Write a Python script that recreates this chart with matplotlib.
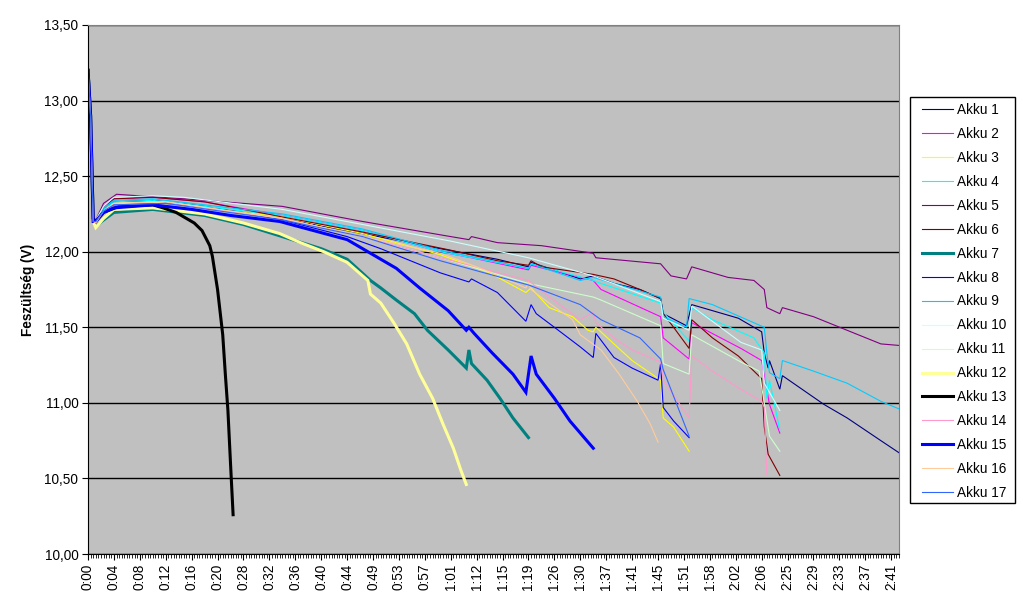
import matplotlib
matplotlib.use("Agg")
import matplotlib.pyplot as plt
from matplotlib.ticker import MultipleLocator, FuncFormatter
from matplotlib.patches import Rectangle

plt.rcParams['font.family'] = ['Liberation Sans', 'DejaVu Sans']

# category labels (one label every 10 samples)
time_labels = ['0:00', '0:04', '0:08', '0:12', '0:16', '0:20', '0:28', '0:32', '0:36', '0:40',
               '0:44', '0:49', '0:53', '0:57', '1:01', '1:12', '1:15', '1:19', '1:26', '1:30',
               '1:37', '1:41', '1:45', '1:51', '1:58', '2:02', '2:06', '2:25', '2:29', '2:33',
               '2:37', '2:41']

# voltage readings per battery (sample index, volts)
akku1_x = [0, 1, 2, 3, 6, 10, 25, 45, 75, 106, 136, 158, 170, 171, 190, 195, 203, 213, 221, 222, 231, 233,
           241, 251, 260, 261, 262.5, 263, 267, 268, 284, 293, 306, 313]
akku1_y = [13.22, 12.90, 12.22, 12.20, 12.28, 12.33, 12.34, 12.30, 12.22, 12.12, 12.02, 11.95, 11.90, 11.93,
           11.82, 11.84, 11.79, 11.75, 11.69, 11.59, 11.51, 11.65, 11.61, 11.56, 11.47, 11.33, 11.23, 11.28,
           11.09, 11.18, 10.99, 10.90, 10.75, 10.67]

akku2_x = [0, 1, 2, 3, 6, 10, 25, 45, 75, 106, 136, 148, 170, 171, 195, 198, 221, 222, 232, 233, 252, 260, 263, 267]
akku2_y = [13.25, 12.90, 12.20, 12.20, 12.30, 12.35, 12.36, 12.33, 12.24, 12.14, 12.00, 11.96, 11.88, 11.91,
           11.81, 11.75, 11.57, 11.43, 11.29, 11.53, 11.36, 11.28, 10.99, 10.80]

akku3_x = [0, 1, 2, 3, 6, 10, 25, 45, 75, 106, 136, 155, 169, 171, 178, 187, 193, 195, 196, 203, 210, 221, 222, 226, 232]
akku3_y = [13.20, 12.90, 12.20, 12.19, 12.27, 12.32, 12.33, 12.29, 12.23, 12.12, 11.98, 11.86, 11.73, 11.76,
           11.63, 11.57, 11.48, 11.47, 11.50, 11.39, 11.28, 11.15, 10.90, 10.84, 10.68]

akku4_x = [0, 1, 2, 3, 6, 10, 25, 45, 75, 106, 136, 170, 171, 195, 198, 221, 222, 232, 233, 241, 257, 261, 262, 263, 267]
akku4_y = [13.25, 12.90, 12.21, 12.20, 12.28, 12.33, 12.34, 12.30, 12.24, 12.14, 12.00, 11.89, 11.92, 11.81,
           11.79, 11.66, 11.60, 11.41, 11.63, 11.55, 11.43, 11.33, 11.03, 11.15, 10.82]

akku5_x = [0, 1, 2, 3, 6, 11, 37, 75, 106, 140, 147, 148, 158, 175, 195, 196, 221, 225, 231, 233, 247, 257, 261,
           262, 267, 268, 280, 293, 306, 313]
akku5_y = [13.25, 12.90, 12.22, 12.21, 12.32, 12.38, 12.35, 12.30, 12.20, 12.10, 12.08, 12.10, 12.06, 12.04,
           11.99, 11.96, 11.92, 11.84, 11.82, 11.90, 11.83, 11.81, 11.75, 11.63, 11.59, 11.63, 11.57, 11.48,
           11.39, 11.38]

akku6_x = [0, 1, 2, 3, 6, 10, 25, 45, 75, 106, 140, 158, 170, 171, 175, 195, 203, 213, 221, 222, 226, 232, 233,
           241, 251, 260, 261, 262.5, 267]
akku6_y = [13.25, 12.90, 12.22, 12.20, 12.29, 12.35, 12.36, 12.33, 12.23, 12.13, 12.01, 11.94, 11.91, 11.94,
           11.90, 11.85, 11.82, 11.75, 11.69, 11.59, 11.50, 11.36, 11.55, 11.43, 11.31, 11.16, 10.84, 10.66, 10.52]

akku7_x = [0, 1, 2, 3, 6, 10, 25, 45, 60, 75, 90, 100, 109, 113, 119, 126, 131, 139, 146, 147, 148, 154, 159, 164, 170]
akku7_y = [13.20, 12.90, 12.20, 12.17, 12.21, 12.26, 12.28, 12.24, 12.18, 12.10, 12.02, 11.95, 11.81, 11.76,
           11.68, 11.59, 11.48, 11.35, 11.23, 11.35, 11.26, 11.15, 11.03, 10.90, 10.77]

akku8_x = [0, 1, 2, 3, 6, 10, 30, 55, 75, 100, 113, 136, 147, 148, 158, 169, 171, 173, 180, 190, 195, 196, 203,
           210, 220, 221, 222, 226, 232]
akku8_y = [13.25, 12.90, 12.20, 12.19, 12.27, 12.31, 12.32, 12.27, 12.21, 12.10, 12.02, 11.86, 11.80, 11.82,
           11.73, 11.54, 11.65, 11.59, 11.50, 11.37, 11.30, 11.46, 11.30, 11.23, 11.15, 11.26, 10.97, 10.88, 10.77]

akku9_x = [0, 1, 2, 3, 6, 10, 25, 45, 75, 106, 136, 170, 171, 190, 195, 221, 222, 231, 232, 241, 257, 261, 262,
           263, 267, 268, 280, 293, 306, 313]
akku9_y = [13.28, 12.90, 12.21, 12.20, 12.29, 12.34, 12.35, 12.31, 12.25, 12.15, 12.01, 11.89, 11.92, 11.81,
           11.83, 11.70, 11.57, 11.50, 11.69, 11.65, 11.53, 11.50, 11.33, 11.20, 11.16, 11.28, 11.21, 11.13,
           11.01, 10.96]

akku10_x = [0, 1, 2, 3, 6, 10, 25, 37, 75, 106, 140, 170, 195, 221, 222, 232, 233, 252, 260, 261, 267]
akku10_y = [13.28, 12.90, 12.22, 12.21, 12.30, 12.36, 12.37, 12.36, 12.28, 12.18, 12.07, 11.96, 11.84, 11.67,
            11.56, 11.48, 11.64, 11.40, 11.35, 11.13, 10.95]

akku11_x = [0, 1, 2, 3, 6, 10, 30, 75, 106, 136, 170, 195, 198, 221, 222, 232, 233, 252, 259, 261, 263, 267]
akku11_y = [13.20, 12.90, 12.20, 12.19, 12.27, 12.32, 12.33, 12.22, 12.10, 11.96, 11.79, 11.70, 11.68, 11.51,
            11.26, 11.19, 11.45, 11.27, 11.21, 11.00, 10.78, 10.68]

akku12_x = [0, 1, 2, 3, 6, 10, 25, 45, 60, 74, 82, 91, 100, 108, 109, 113, 118, 123, 128, 133, 137, 141, 144, 146]
akku12_y = [13.18, 12.90, 12.20, 12.16, 12.22, 12.28, 12.29, 12.25, 12.19, 12.12, 12.06, 12.00, 11.93, 11.81,
            11.72, 11.66, 11.53, 11.39, 11.19, 11.03, 10.86, 10.70, 10.55, 10.46]

akku13_x = [0, 1, 2, 3, 6, 12, 25, 29, 34, 38, 41, 44, 47, 48, 50, 52, 53, 54, 55, 56]
akku13_y = [13.20, 12.90, 12.22, 12.20, 12.26, 12.30, 12.31, 12.29, 12.26, 12.22, 12.19, 12.14, 12.04, 11.97,
            11.75, 11.45, 11.19, 10.95, 10.60, 10.26]

akku14_x = [0, 1, 2, 3, 6, 10, 30, 75, 106, 136, 170, 178, 190, 195, 196, 203, 210, 221, 222, 232, 233, 241, 251,
            260, 261, 262]
akku14_y = [13.22, 12.90, 12.20, 12.19, 12.27, 12.31, 12.32, 12.22, 12.10, 11.96, 11.81, 11.70, 11.55, 11.60,
            11.53, 11.43, 11.35, 11.27, 11.15, 10.90, 11.31, 11.21, 11.10, 11.01, 10.97, 10.52]

akku15_x = [0, 1, 2, 3, 6, 10, 25, 40, 55, 74, 87, 100, 108, 119, 128, 139, 146, 147, 149, 156, 164, 169, 171,
            173, 180, 186, 195]
akku15_y = [13.20, 12.90, 12.20, 12.20, 12.26, 12.29, 12.31, 12.28, 12.24, 12.20, 12.14, 12.08, 12.00, 11.89,
            11.76, 11.61, 11.48, 11.50, 11.46, 11.33, 11.19, 11.07, 11.31, 11.19, 11.03, 10.88, 10.70]

akku16_x = [0, 1, 2, 3, 6, 10, 30, 75, 106, 136, 153, 169, 170, 171, 178, 187, 190, 198, 205, 212, 217, 220]
akku16_y = [13.20, 12.90, 12.20, 12.19, 12.27, 12.32, 12.33, 12.22, 12.10, 11.99, 11.88, 11.76, 11.80, 11.75,
            11.66, 11.55, 11.45, 11.35, 11.19, 11.01, 10.86, 10.74]

akku17_x = [0, 1, 2, 3, 6, 10, 30, 75, 106, 136, 170, 190, 198, 213, 221, 222, 232]
akku17_y = [13.22, 12.90, 12.20, 12.20, 12.27, 12.31, 12.32, 12.21, 12.10, 11.94, 11.78, 11.65, 11.55, 11.43,
            11.29, 11.22, 10.78]

series = [
    ('Akku 1', akku1_x, akku1_y, '#000080', 0.8),
    ('Akku 2', akku2_x, akku2_y, '#FF00FF', 0.8),
    ('Akku 3', akku3_x, akku3_y, '#FFFF00', 0.8),
    ('Akku 4', akku4_x, akku4_y, '#00FFFF', 0.8),
    ('Akku 5', akku5_x, akku5_y, '#800080', 0.8),
    ('Akku 6', akku6_x, akku6_y, '#800000', 0.8),
    ('Akku 7', akku7_x, akku7_y, '#008080', 2.2),
    ('Akku 8', akku8_x, akku8_y, '#0000FF', 0.8),
    ('Akku 9', akku9_x, akku9_y, '#00CCFF', 0.8),
    ('Akku 10', akku10_x, akku10_y, '#CCFFFF', 0.8),
    ('Akku 11', akku11_x, akku11_y, '#CCFFCC', 0.8),
    ('Akku 12', akku12_x, akku12_y, '#FFFF99', 2.2),
    ('Akku 13', akku13_x, akku13_y, '#000000', 2.2),
    ('Akku 14', akku14_x, akku14_y, '#FF99CC', 0.8),
    ('Akku 15', akku15_x, akku15_y, '#0000FF', 2.2),
    ('Akku 16', akku16_x, akku16_y, '#FFCC99', 0.8),
    ('Akku 17', akku17_x, akku17_y, '#3366FF', 0.8),
]

fs = 9.8

fig = plt.figure(figsize=(10.23, 6.01), dpi=100)
ax = fig.add_axes([88 / 1023, (601 - 554) / 601, (899 - 88) / 1023, (554 - 25) / 601])
ax.set_facecolor('#C0C0C0')

for name, xs, ys, col, lw in series:
    ax.plot(xs, ys, color=col, lw=lw, label=name, solid_joinstyle='miter')

ax.set_ylim(10, 13.5)
ax.set_xlim(0, 313)
ax.yaxis.set_major_locator(MultipleLocator(0.5))
ax.yaxis.set_major_formatter(FuncFormatter(lambda v, p: f"{v:.2f}".replace('.', ',')))
ax.yaxis.grid(True, color='black', lw=1)
ax.set_axisbelow(True)

ax.set_xticks(range(0, 320, 10))
ax.set_xticklabels(time_labels, rotation=90, fontsize=fs)
ax.xaxis.set_minor_locator(MultipleLocator(1))
ax.tick_params(axis='x', which='major', length=4, width=0.8, pad=3)
ax.tick_params(axis='x', which='minor', length=3, width=0.6)
ax.tick_params(axis='y', length=4, width=0.8, labelsize=fs, pad=3)

ax.set_ylabel('Feszültség (V)', fontsize=fs, fontweight='bold', labelpad=7)

for s in ['top', 'right']:
    ax.spines[s].set_color('#808080')
for s in ['left', 'bottom']:
    ax.spines[s].set_color('black')

# legend box drawn separately so its size matches the original
fig.patches.append(Rectangle((910 / 1023, 1 - 503 / 601), 105 / 1023, 406 / 601,
                             transform=fig.transFigure, facecolor='white', edgecolor='black',
                             lw=1, zorder=2))
leg = fig.legend(loc='upper left', bbox_to_anchor=(922 / 1023, 1 - 103 / 601), fontsize=fs,
                 frameon=False, handlelength=2.3, handletextpad=0.3, labelspacing=0.73,
                 borderpad=0, borderaxespad=0)
leg.set_zorder(3)

fig.savefig('out.png', dpi=100)
